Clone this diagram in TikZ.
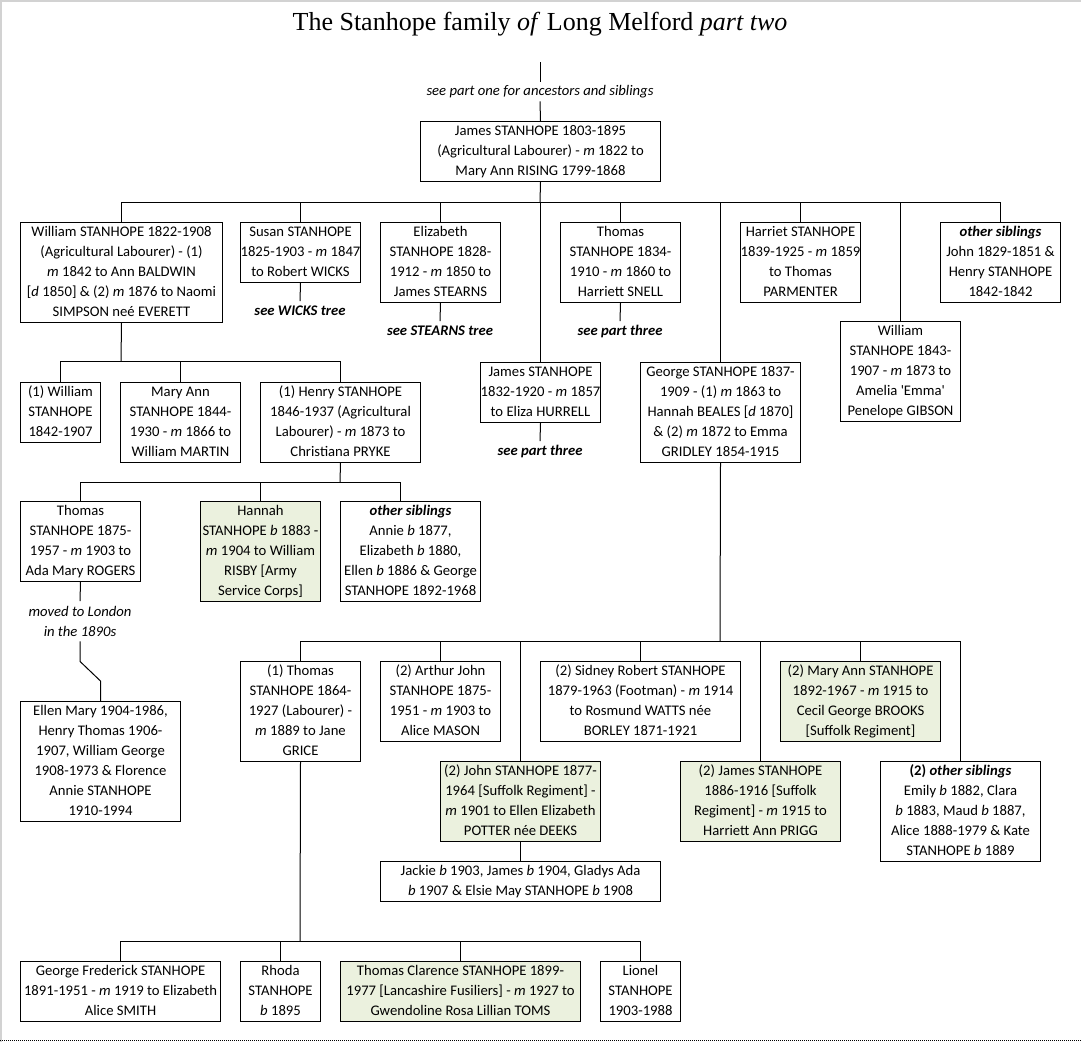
\documentclass[tikz,border=0pt]{standalone}
\usepackage{fontspec}
\setmainfont{Carlito}
\newfontfamily\titlefont{Liberation Serif}
\definecolor{soldier}{HTML}{EBF1DE}
\newcommand\bodyfont{\fontsize{14.67}{20}\selectfont}
\newcommand\mi{\textit{m}}
\newcommand\bi{\textit{b}}
\newcommand\di{\textit{d}}
% \bx[style]{name}{x,y}{width}{height}{lines}
\newcommand\bx[6][box]{%
  \node[#1, minimum width=#4pt, minimum height=#5pt] (#2) at (#3)
    {\makebox[#4pt]{\begin{tabular}{@{}c@{}}#6\end{tabular}}};}
\begin{document}
\begin{tikzpicture}[x=1pt,y=-1pt,
  box/.style={draw, line width=1pt, anchor=north west, inner sep=0pt, font=\bodyfont},
  gbox/.style={box, fill=soldier},
  note/.style={anchor=north, inner sep=0pt, minimum height=20pt, align=center, font=\bodyfont\itshape},
  bnote/.style={note, font=\bodyfont\bfseries\itshape},
  link/.style={line width=1pt}]
\useasboundingbox (0,0) rectangle (1081,1042);
\fill[white] (0,0) rectangle (1081,1042);
\draw[gray!35, line width=1.5pt] (0,0.75) -- (1081,0.75);
\draw[gray!35, line width=1.5pt] (1,0) -- (1,1042);
\draw[line width=1pt, dash pattern=on 1pt off 1pt] (0,1040) -- (1081,1040);

% title
\node[anchor=base, inner sep=0pt, font=\titlefont\fontsize{26}{30}\selectfont] (title) at (540,30)
  {The Stanhope family \textit{of} Long Melford \textit{part two}};

% generation 0
\coordinate (top) at (540,62);
\node[note, minimum height=19pt] (seeone) at (540,82) {see part one for ancestors and siblings};
\bx{james}{420,121}{240}{60}{James STANHOPE 1803-1895\\(Agricultural Labourer) - \mi{} 1822 to\\Mary Ann RISING 1799-1868}

% generation 1
\bx{wil}{20,222}{202}{100}{William STANHOPE 1822-1908\\(Agricultural Labourer) - (1)\\\mi{} 1842 to Ann BALDWIN\\{[}\di{} 1850] \& (2) \mi{} 1876 to Naomi\\SIMPSON neé EVERETT}
\bx{sus}{240,222}{120}{60}{Susan STANHOPE\\1825-1903 - \mi{} 1847\\to Robert WICKS}
\bx{eli}{380,222}{120}{80}{Elizabeth\\STANHOPE 1828-\\1912 - \mi{} 1850 to\\James STEARNS}
\bx{tho}{560,222}{120}{80}{Thomas\\STANHOPE 1834-\\1910 - \mi{} 1860 to\\Harriett SNELL}
\bx{har}{740,222}{120}{80}{Harriet STANHOPE\\1839-1925 - \mi{} 1859\\to Thomas\\PARMENTER}
\bx{oth1}{940,222}{120}{80}{\textbf{\textit{other siblings}}\\John 1829-1851 \&\\Henry STANHOPE\\1842-1842}
\bx{wil2}{840,321}{120}{100}{William\\STANHOPE 1843-\\1907 - \mi{} 1873 to\\Amelia \textquotesingle Emma\textquotesingle\\Penelope GIBSON}
\bx{jam2}{480,362}{120}{60}{James STANHOPE\\1832-1920 - \mi{} 1857\\to Eliza HURRELL}
\bx{geo}{640,362}{160}{100}{George STANHOPE 1837-\\1909 - (1) \mi{} 1863 to\\Hannah BEALES [\di{} 1870]\\\& (2) \mi{} 1872 to Emma\\GRIDLEY 1854-1915}

\node[bnote] (wicks) at (300,301) {see WICKS tree};
\node[bnote] (stearns) at (440,321) {see STEARNS tree};
\node[bnote] (three1) at (620,321) {see part three};
\node[bnote] (three2) at (540,441) {see part three};

% William's children
\bx{wk1}{20,382}{80}{60}{(1) William\\STANHOPE\\1842-1907}
\bx{mary}{120,382}{120}{80}{Mary Ann\\STANHOPE 1844-\\1930 - \mi{} 1866 to\\William MARTIN}
\bx{hen}{260,382}{160}{80}{(1) Henry STANHOPE\\1846-1937 (Agricultural\\Labourer) - \mi{} 1873 to\\Christiana PRYKE}

% Henry's children
\bx{tho3}{20,501}{120}{80}{Thomas\\STANHOPE 1875-\\1957 - \mi{} 1903 to\\Ada Mary ROGERS}
\bx[gbox]{han}{200,501}{120}{100}{Hannah\\STANHOPE \bi{} 1883 -\\\mi{} 1904 to William\\RISBY [Army\\Service Corps]}
\bx{hsib}{340,501}{140}{100}{\textbf{\textit{other siblings}}\\Annie \bi{} 1877,\\Elizabeth \bi{} 1880,\\Ellen \bi{} 1886 \& George\\STANHOPE 1892-1968}
\node[note, minimum height=40pt] (moved) at (80,601) {moved to London\\in the 1890s};
\bx{ellen}{20,701}{160}{120}{Ellen Mary 1904-1986,\\Henry Thomas 1906-\\1907, William George\\1908-1973 \& Florence\\Annie STANHOPE\\1910-1994}

% George's children
\bx{t64}{240,661}{120}{100}{(1) Thomas\\STANHOPE 1864-\\1927 (Labourer) -\\\mi{} 1889 to Jane\\GRICE}
\bx{art}{380,661}{120}{80}{(2) Arthur John\\STANHOPE 1875-\\1951 - \mi{} 1903 to\\Alice MASON}
\bx{sid}{540,661}{200}{80}{(2) Sidney Robert STANHOPE\\1879-1963 (Footman) - \mi{} 1914\\to Rosmund WATTS née\\BORLEY 1871-1921}
\bx[gbox]{mary2}{780,661}{160}{80}{(2) Mary Ann STANHOPE\\1892-1967 - \mi{} 1915 to\\Cecil George BROOKS\\{[}Suffolk Regiment]}
\bx[gbox]{john}{440,761}{160}{80}{(2) John STANHOPE 1877-\\1964 [Suffolk Regiment] -\\\mi{} 1901 to Ellen Elizabeth\\POTTER née DEEKS}
\bx[gbox]{jam3}{680,761}{160}{80}{(2) James STANHOPE\\1886-1916 [Suffolk\\Regiment] - \mi{} 1915 to\\Harriett Ann PRIGG}
\bx{oth2}{880,761}{160}{100}{\textbf{(2) \textit{other siblings}}\\Emily \bi{} 1882, Clara\\\bi{} 1883, Maud \bi{} 1887,\\Alice 1888-1979 \& Kate\\STANHOPE \bi{} 1889}
\bx{jack}{380,861}{280}{40}{Jackie \bi{} 1903, James \bi{} 1904, Gladys Ada\\\bi{} 1907 \& Elsie May STANHOPE \bi{} 1908}

% Thomas (1864)'s children
\bx{gf}{20,961}{200}{60}{George Frederick STANHOPE\\1891-1951 - \mi{} 1919 to Elizabeth\\Alice SMITH}
\bx{rho}{240,961}{80}{60}{Rhoda\\STANHOPE\\\bi{} 1895}
\bx[gbox]{tc}{340,961}{240}{60}{Thomas Clarence STANHOPE 1899-\\1977 [Lancashire Fusiliers] - \mi{} 1927 to\\Gwendoline Rosa Lillian TOMS}
\bx{lio}{600,961}{80}{60}{Lionel\\STANHOPE\\1903-1988}

% connectors
\draw[link] (top) -- (seeone.north);
\draw[link] (seeone.south) -- (james.north);

\coordinate (bar1) at (540,202);
\draw[link] (james.south) -- (bar1);
\draw[link] (wil.north |- bar1) -- (oth1.north |- bar1);
\foreach \n in {wil,sus,eli,jam2,tho,geo,har,wil2,oth1}
  \draw[link] (\n.north) -- (\n.north |- bar1);
\draw[link] (sus.south) -- (wicks.north);
\draw[link] (eli.south) -- (stearns.north);
\draw[link] (tho.south) -- (three1.north);
\draw[link] (jam2.south) -- (three2.north);

\coordinate (bar2) at (121,361);
\draw[link] (wil.south) -- (bar2);
\draw[link] (wk1.north |- bar2) -- (hen.north |- bar2);
\foreach \n in {wk1,mary,hen}
  \draw[link] (\n.north) -- (\n.north |- bar2);

\coordinate (bar3) at (340,482);
\coordinate (hsibtop) at ([xshift=-10pt]hsib.north);
\draw[link] (hen.south) -- (bar3);
\draw[link] (tho3.north |- bar3) -- (hsibtop |- bar3);
\foreach \n in {tho3,han,hsibtop}
  \draw[link] (\n.north) -- (\n.north |- bar3);
\draw[link] (tho3.south) -- (moved.north);
\draw[link] (moved.south) -- ++(0,20) -- ([yshift=20pt]ellen.north) -- (ellen.north);

\coordinate (bar4) at (720,641);
\draw[link] (geo.south) -- (bar4);
\draw[link] (t64.north |- bar4) -- (oth2.north |- bar4);
\foreach \n in {t64,art,john,sid,jam3,mary2,oth2}
  \draw[link] (\n.north) -- (\n.north |- bar4);
\draw[link] (john.south) -- (jack.north);

\coordinate (bar5) at (300,941);
\draw[link] (t64.south) -- (bar5);
\draw[link] (gf.north |- bar5) -- (lio.north |- bar5);
\foreach \n in {gf,rho,tc,lio}
  \draw[link] (\n.north) -- (\n.north |- bar5);
\end{tikzpicture}
\end{document}
